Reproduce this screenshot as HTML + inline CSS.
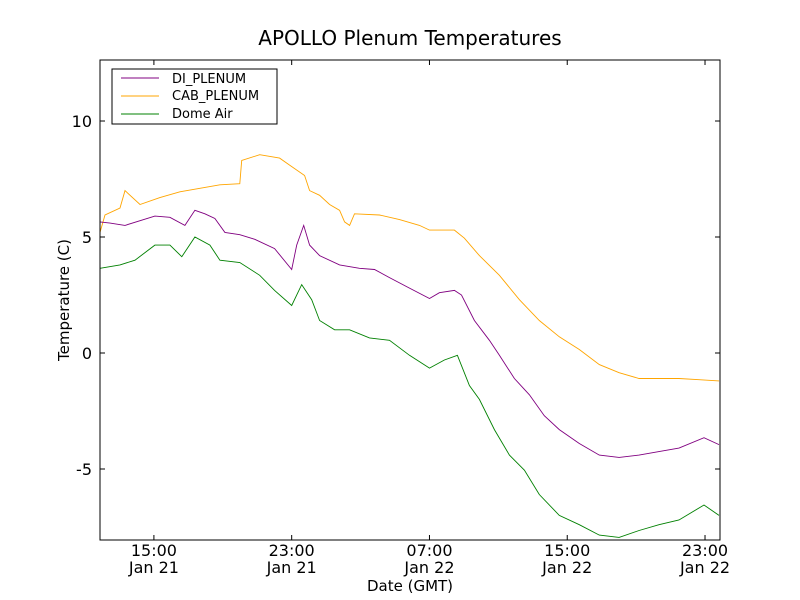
<!DOCTYPE html>
<html><head><meta charset="utf-8"><style>
body{margin:0;background:#fff;}
svg{display:block;font-family:"DejaVu Sans","Liberation Sans",sans-serif;}
</style></head><body>
<svg id="chart" width="800" height="600" viewBox="0 0 800 600">
<rect width="800" height="600" fill="#fff"/>
<text x="410" y="45" font-size="20" text-anchor="middle">APOLLO Plenum Temperatures</text>
<g id="series"></g>
<g id="axes"></g>
<rect x="100" y="60" width="620" height="480" fill="none" stroke="#000" stroke-width="1"/>
<text x="410" y="591" font-size="15" text-anchor="middle">Date (GMT)</text>
<text transform="translate(69,300) rotate(-90)" font-size="15" text-anchor="middle">Temperature (C)</text>
<g>
<rect x="112" y="69" width="165" height="55" fill="#fff" stroke="#000"/>
<g><line x1="121" y1="78" x2="159" y2="78" stroke="purple"/><text x="172" y="83" font-size="13">DI_PLENUM</text></g>
<g><line x1="121" y1="96" x2="159" y2="96" stroke="orange"/><text x="172" y="100" font-size="13">CAB_PLENUM</text></g>
<g><line x1="121" y1="114" x2="159" y2="114" stroke="green"/><text x="172" y="118" font-size="13">Dome Air</text></g>
</g>
</svg>
<script>
const diT=[11.87,12.45,13.32,15.06,15.93,16.80,17.38,17.96,18.54,19.12,19.99,20.86,22.01,23.0,23.29,23.70,24.04,24.62,25.78,26.94,27.81,28.68,29.84,31.0,31.58,32.45,32.86,33.61,34.48,35.06,35.93,36.80,37.67,38.54,39.70,40.86,42.01,43.17,44.33,45.49,46.94,47.81];
const diV=[5.65,5.6,5.5,5.9,5.85,5.5,6.15,6.0,5.8,5.2,5.1,4.9,4.5,3.6,4.65,5.5,4.65,4.2,3.8,3.65,3.6,3.25,2.8,2.35,2.6,2.7,2.5,1.4,0.55,-0.1,-1.1,-1.8,-2.7,-3.3,-3.9,-4.4,-4.5,-4.4,-4.25,-4.1,-3.65,-3.95];
const cabT=[11.87,12.16,13.03,13.32,14.19,15.35,16.51,17.67,18.83,19.99,20.10,21.14,22.30,22.88,23.75,24.04,24.62,25.20,25.78,26.07,26.36,26.65,28.10,29.26,30.42,31.0,32.45,33.03,33.90,35.06,36.22,37.38,38.54,39.70,40.86,42.01,43.17,44.33,45.49,46.65,47.81];
const cabV=[5.2,5.95,6.25,7.0,6.4,6.7,6.95,7.1,7.25,7.3,8.3,8.55,8.4,8.1,7.65,7.0,6.8,6.4,6.15,5.65,5.5,6.0,5.95,5.75,5.5,5.3,5.3,4.95,4.2,3.35,2.3,1.4,0.7,0.15,-0.5,-0.85,-1.1,-1.1,-1.1,-1.15,-1.2];
const domeT=[11.87,13.03,13.90,15.06,15.93,16.62,17.38,18.25,18.83,19.99,21.14,22.01,23.0,23.58,24.16,24.62,25.49,26.36,27.52,28.68,29.84,31.0,31.87,32.62,33.32,33.90,34.77,35.64,36.51,37.38,38.54,39.70,40.86,42.01,43.17,44.33,45.49,46.94,47.81];
const domeV=[3.65,3.8,4.0,4.65,4.65,4.15,5.0,4.65,4.0,3.9,3.35,2.7,2.05,2.95,2.3,1.4,1.0,1.0,0.65,0.55,-0.1,-0.65,-0.3,-0.1,-1.4,-2.0,-3.3,-4.4,-5.05,-6.1,-7.0,-7.4,-7.85,-7.95,-7.65,-7.4,-7.2,-6.55,-7.0];
const yTicks=[10,5,0,-5];
const yTickLabels=["10","5","0","-5"];
const xTicks=[15,23,31,39,47];
const xTickLabels1=["15:00","23:00","07:00","15:00","23:00"];
const xTickLabels2=["Jan 21","Jan 21","Jan 22","Jan 22","Jan 22"];

const X0=100,X1=720,Y0=540,Y1=60,tMin=11.87,tMax=47.87,vMin=-8.06,vMax=12.63;
function xs(t){return X0+(t-tMin)/(tMax-tMin)*(X1-X0);}
function ys(v){return Y0-(v-vMin)/(vMax-vMin)*(Y0-Y1);}
const NS="http://www.w3.org/2000/svg";
const sg=document.getElementById('series'), ag=document.getElementById('axes');
function line(ts,vs,color,name){
  const p=document.createElementNS(NS,'path');
  p.setAttribute('d',ts.map((t,i)=>(i?'L':'M')+xs(t).toFixed(1)+','+ys(vs[i]).toFixed(1)).join(''));
  p.setAttribute('fill','none');p.setAttribute('stroke',color);p.setAttribute('stroke-width','0.9');
  
  
  sg.appendChild(p);
}
line(cabT,cabV,'orange','cab-plenum-line');
line(diT,diV,'purple','di-plenum-line');
line(domeT,domeV,'green','dome-air-line');
function mk(tag,attrs,txt){const e=document.createElementNS(NS,tag);for(const k in attrs)e.setAttribute(k,attrs[k]);if(txt)e.textContent=txt;ag.appendChild(e);return e;}
yTicks.forEach((v,i)=>{
  const y=ys(v);
  const a=mk('line',{x1:X0,x2:X0+5,y1:y,y2:y,stroke:'#000'});
  
  
  const b=mk('line',{x1:X1-5,x2:X1,y1:y,y2:y,stroke:'#000'});
  
  
  const t=mk('text',{x:X0-8,y:y+6,'font-size':16,'text-anchor':'end'},yTickLabels[i]);
  
  
});
xTicks.forEach((h,i)=>{
  const x=xs(h);
  const a=mk('line',{x1:x,x2:x,y1:Y0,y2:Y0-5,stroke:'#000'});
  
  
  const b=mk('line',{x1:x,x2:x,y1:Y1,y2:Y1+5,stroke:'#000'});
  
  
  const t=mk('text',{x:x,y:556,'font-size':16,'text-anchor':'middle'},xTickLabels1[i]);
  
  
  const t2=mk('text',{x:x,y:573,'font-size':16,'text-anchor':'middle'},xTickLabels2[i]);
  
  
});
</script>
</body></html>
